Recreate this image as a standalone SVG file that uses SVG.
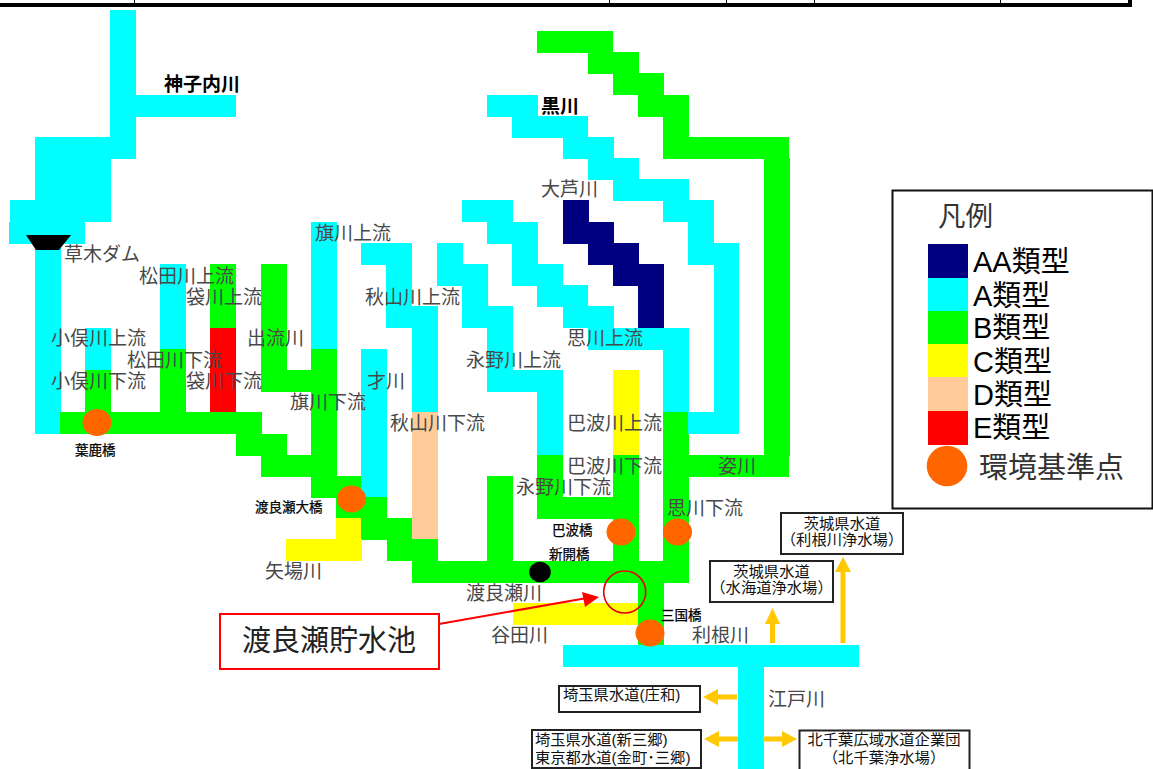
<svg xmlns="http://www.w3.org/2000/svg" width="1153" height="769" viewBox="0 0 1153 769">
<style>
text{font-family:"Liberation Sans","Noto Sans CJK JP",sans-serif}
.a{fill:#00ffff}.b{fill:#00ff00}.c{fill:#ffff00}.d{fill:#ffcc99}.e{fill:#ff0000}.aa{fill:#000080}
.pt{fill:#ff6600}
.l{font-size:19px;fill:#484848}
.k{font-size:19px;fill:#000;font-weight:bold}
.s{font-size:13.500px;fill:#000;stroke:#000;stroke-width:.25}
.box{fill:#fff;stroke:#222;stroke-width:2}
.bt{font-size:15.300px;fill:#111}
.m{text-anchor:middle}
.lg{font-size:29px;fill:#000}
.y{fill:#ffc800}
</style>
<rect width="1153" height="769" fill="#fff"/>
<g id="frame">
<rect x="0" y="3" width="1132" height="4" fill="#000"/>
<rect x="1128" y="0" width="4" height="7" fill="#000"/>
<path d="M134.500 0V3M609.500 0V3M726.500 0V3M814.500 0V3M1000.500 0V3" stroke="#000" stroke-width="1"/>
</g>
<g id="river-kamiko" class="a">
<rect x="110" y="10" width="26" height="149"/>
<rect x="136" y="95" width="100" height="22"/>
<rect x="35" y="137" width="101" height="22"/>
<rect x="35" y="159" width="76" height="63"/>
<rect x="10" y="200" width="101" height="22"/>
<rect x="9" y="222" width="76" height="22"/>
<rect x="35" y="244" width="26" height="190"/>
</g>
<g id="river-omata"><rect class="a" x="85" y="328" width="26" height="42"/><rect class="b" x="85" y="370" width="26" height="42"/></g>
<g id="river-matsuda"><rect class="a" x="160" y="264" width="26" height="85"/><rect class="b" x="160" y="349" width="26" height="63"/></g>
<g id="river-fukuro"><rect class="b" x="210" y="264" width="26" height="64"/><rect class="e" x="210" y="328" width="26" height="84"/></g>
<g id="river-izuru" class="b"><rect x="261" y="264" width="26" height="128"/><rect x="261" y="370" width="76" height="22"/></g>
<g id="river-hata"><rect class="a" x="311" y="222" width="26" height="127"/><rect class="b" x="311" y="349" width="26" height="149"/></g>
<g id="river-sai" class="a"><rect x="361" y="349" width="26" height="148"/></g>
<g id="river-akiyama">
<g class="a"><rect x="361" y="243" width="51" height="22"/><rect x="386" y="265" width="26" height="63"/><rect x="386" y="306" width="52" height="22"/><rect x="412" y="306" width="26" height="106"/></g>
<rect class="d" x="412" y="412" width="26" height="127"/>
</g>
<g id="river-nagano">
<g class="a"><rect x="437" y="243" width="26" height="43"/><rect x="437" y="264" width="51" height="22"/><rect x="462" y="264" width="26" height="64"/><rect x="462" y="306" width="51" height="22"/><rect x="487" y="306" width="26" height="86"/><rect x="487" y="370" width="76" height="22"/><rect x="537" y="370" width="26" height="85"/></g>
<g class="b"><rect x="537" y="455" width="26" height="64"/><rect x="538" y="497" width="101" height="22"/></g>
</g>
<g id="river-hawa"><rect class="c" x="613" y="370" width="26" height="85"/><rect class="b" x="613" y="455" width="26" height="106"/></g>
<g id="river-omoi-branch" class="a">
<rect x="462" y="200" width="51" height="22"/><rect x="487" y="222" width="51" height="22"/><rect x="512" y="243" width="26" height="43"/><rect x="512" y="264" width="51" height="22"/><rect x="537" y="285" width="51" height="22"/><rect x="563" y="306" width="51" height="22"/><rect x="588" y="328" width="101" height="22"/>
</g>
<g id="river-oashi" class="aa">
<rect x="563" y="200" width="26" height="44"/><rect x="563" y="222" width="51" height="22"/><rect x="588" y="243" width="51" height="22"/><rect x="613" y="264" width="51" height="22"/><rect x="638" y="264" width="26" height="64"/>
</g>
<g id="river-omoi"><rect class="a" x="663" y="328" width="26" height="84"/><rect class="b" x="663" y="412" width="26" height="171"/></g>
<g id="river-kuro" class="a">
<rect x="487" y="95" width="51" height="22"/><rect x="512" y="116" width="76" height="22"/><rect x="563" y="137" width="51" height="22"/><rect x="588" y="158" width="51" height="22"/><rect x="613" y="179" width="76" height="22"/><rect x="663" y="200" width="51" height="22"/><rect x="688" y="200" width="26" height="65"/><rect x="688" y="243" width="51" height="22"/><rect x="714" y="243" width="25" height="191"/><rect x="688" y="412" width="51" height="22"/>
</g>
<g id="river-sugata" class="b">
<rect x="537" y="31" width="76" height="22"/><rect x="588" y="52" width="51" height="22"/><rect x="613" y="73" width="51" height="22"/><rect x="638" y="95" width="51" height="22"/><rect x="663" y="95" width="26" height="64"/><rect x="663" y="137" width="126" height="22"/><rect x="764" y="158" width="26" height="298"/><rect x="663" y="455" width="126" height="22"/>
</g>
<g id="river-watarase" class="b">
<rect x="60" y="412" width="202" height="22"/><rect x="236" y="434" width="51" height="22"/><rect x="261" y="455" width="76" height="22"/><rect x="311" y="476" width="50" height="22"/><rect x="336" y="497" width="51" height="21"/><rect x="361" y="518" width="51" height="22"/><rect x="387" y="518" width="25" height="43"/><rect x="387" y="539" width="51" height="22"/><rect x="412" y="561" width="277" height="22"/><rect x="487" y="476" width="26" height="85"/><rect x="638" y="583" width="26" height="62"/>
</g>
<g id="river-yaba" class="c"><rect x="336" y="518" width="25" height="21"/><rect x="286" y="539" width="76" height="22"/></g>
<g id="river-yata" class="c"><rect x="513" y="603" width="125" height="22"/></g>
<g id="river-tone" class="a"><rect x="563" y="645" width="296" height="22"/><rect x="738" y="667" width="26" height="102"/></g>

<g id="connectors">
<path class="y" d="M840.500 643V572H835L843 557L851 572H845.500V643Z"/>
<path class="y" d="M770 643V624H765L772.500 608L780 624H775V643Z"/>
<path class="y" d="M737 694.500H718V689L703 697L718 705V699.500H737Z"/>
<path class="y" d="M738 736.500H719V731L704 739L719 747V741.500H738Z"/>
<path class="y" d="M763 736.500H782V731L797 739L782 747V741.500H763Z"/>
</g>

<g id="dam"><path d="M26 235H71L59 250H36Z" fill="#000"/></g>
<g id="point-hajika"><ellipse class="pt" cx="97" cy="422.500" rx="14.500" ry="13.500"/><text class="s" x="75" y="455">葉鹿橋</text></g>
<g id="point-oohashi"><ellipse class="pt" cx="351.500" cy="499" rx="14.500" ry="13.500"/><text class="s" x="255" y="512">渡良瀬大橋</text></g>
<g id="point-hawa"><ellipse class="pt" cx="621" cy="532" rx="14.500" ry="13.500"/><text class="s" x="552" y="535">巴波橋</text></g>
<g id="point-omoi"><ellipse class="pt" cx="677.500" cy="532" rx="14.500" ry="13.500"/></g>
<g id="point-mikuni"><ellipse class="pt" cx="650" cy="633" rx="14.500" ry="13.500"/><text class="s" x="661" y="620">三国橋</text></g>
<g id="point-shinkai"><ellipse cx="540" cy="572" rx="10.800" ry="10.300" fill="#000"/><text class="s" x="549" y="559">新開橋</text></g>

<g id="labels">
<text class="k" x="164" y="91">神子内川</text>
<text class="k" x="541" y="112.500">黒川</text>
<text class="l" x="64" y="261">草木ダム</text>
<text class="l" x="315" y="240">旗川上流</text>
<text class="l" x="139" y="282.500">松田川上流</text>
<text class="l" x="186" y="303.500">袋川上流</text>
<text class="l" x="365" y="303.500">秋山川上流</text>
<text class="l" x="51" y="345">小俣川上流</text>
<text class="l" x="247" y="345">出流川</text>
<text class="l" x="567" y="345">思川上流</text>
<text class="l" x="127" y="367">松田川下流</text>
<text class="l" x="466" y="367">永野川上流</text>
<text class="l" x="51" y="388">小俣川下流</text>
<text class="l" x="186" y="388">袋川下流</text>
<text class="l" x="367" y="388">才川</text>
<text class="l" x="290" y="409">旗川下流</text>
<text class="l" x="390" y="430">秋山川下流</text>
<text class="l" x="567" y="430">巴波川上流</text>
<text class="l" x="567" y="473">巴波川下流</text>
<text class="l" x="718" y="473">姿川</text>
<text class="l" x="516" y="494">永野川下流</text>
<text class="l" x="667" y="515">思川下流</text>
<text class="l" x="541" y="196">大芦川</text>
<text class="l" x="265" y="577.500">矢場川</text>
<text class="l" x="466" y="600">渡良瀬川</text>
<text class="l" x="491" y="642">谷田川</text>
<text class="l" x="692" y="642">利根川</text>
<text class="l" x="768" y="706">江戸川</text>
</g>

<g id="reservoir-callout">
<circle cx="624.700" cy="592" r="21" fill="none" stroke="#e60000" stroke-width="1.600"/>
<rect x="220" y="614" width="219" height="55" fill="#fff" stroke="#f00" stroke-width="2"/>
<path d="M439 624L587 598" stroke="#f00" stroke-width="2" fill="none"/>
<path d="M599 597L582 592L585 607Z" fill="#f00"/>
<text x="242" y="651" font-size="29" fill="#222">渡良瀬貯水池</text>
</g>

<g id="box-tone-jo"><rect class="box" x="781" y="513" width="122" height="41"/><text class="bt m" x="842" y="529">茨城県水道</text><text class="bt m" x="842" y="545">（利根川浄水場）</text></g>
<g id="box-mitsukaido"><rect class="box" x="710" y="561" width="123" height="41"/><text class="bt m" x="771.500" y="577">茨城県水道</text><text class="bt m" x="771.500" y="593">（水海道浄水場）</text></g>
<g id="box-showa"><rect class="box" x="559" y="686" width="141" height="26"/><text class="bt" x="563" y="700">埼玉県水道(庄和)</text></g>
<g id="box-misato"><rect class="box" x="532" y="730" width="169" height="38"/><text class="bt" x="535" y="745">埼玉県水道(新三郷)</text><text class="bt" x="535" y="763">東京都水道(金町･三郷)</text></g>
<g id="box-kitachiba"><rect class="box" x="799.500" y="730.500" width="170" height="50"/><text class="bt m" x="884" y="745">北千葉広域水道企業団</text><text class="bt m" x="884" y="763">（北千葉浄水場）</text></g>

<g id="legend">
<rect x="892.500" y="190.500" width="260" height="318" fill="#fff" stroke="#111" stroke-width="2"/>
<text x="938" y="226" font-size="27.500" fill="#333">凡例</text>
<rect class="aa" x="928" y="244" width="40" height="34"/>
<rect class="a" x="928" y="278" width="40" height="33"/>
<rect class="b" x="928" y="311" width="40" height="33"/>
<rect class="c" x="928" y="344" width="40" height="33"/>
<rect class="d" x="928" y="377" width="40" height="34"/>
<rect class="e" x="928" y="411" width="40" height="34"/>
<text class="lg" x="973" y="272">AA類型</text>
<text class="lg" x="973" y="306">A類型</text>
<text class="lg" x="973" y="338">B類型</text>
<text class="lg" x="973" y="372">C類型</text>
<text class="lg" x="973" y="405">D類型</text>
<text class="lg" x="973" y="438">E類型</text>
<circle class="pt" cx="947" cy="466" r="20.300"/>
<text x="979" y="478" font-size="29" fill="#333">環境基準点</text>
</g>
</svg>
